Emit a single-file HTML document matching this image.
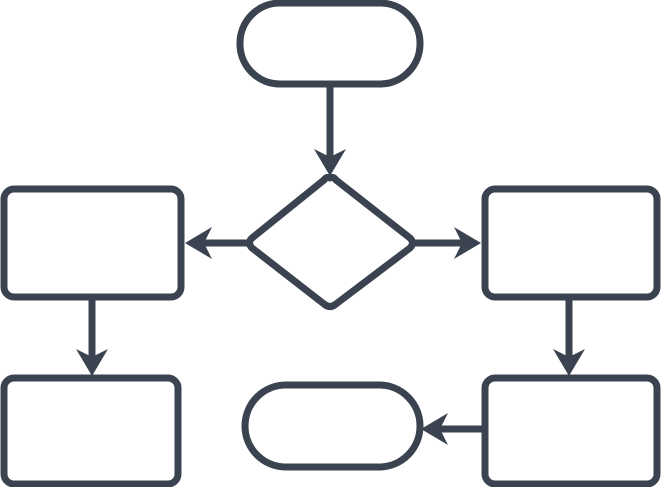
<!DOCTYPE html>
<html><head><style>html,body{margin:0;padding:0;background:#fff;}svg{display:block}</style></head>
<body>
<svg width="661" height="487" viewBox="0 0 661 487" xmlns="http://www.w3.org/2000/svg">
<defs>
<marker id="a" markerUnits="userSpaceOnUse" markerWidth="30" markerHeight="34" refX="17" refY="16" orient="auto">
<path d="M0,0 L27,16 L0,32 L8,16 Z" fill="#3b4350"/>
</marker>
</defs>
<g fill="none" stroke="#3b4350" stroke-width="7" stroke-linejoin="round">
<rect x="240" y="3" width="180" height="81" rx="40"/>
<path d="M330,178 Q333,176 336,180 L410,238 Q415,243 410,248 L336,304 Q330,309 324,304 L252,248 Q247,243 252,238 L324,180 Q327,176 330,178 Z"/>
<rect x="4" y="189" width="177" height="108" rx="10"/>
<rect x="485" y="189" width="172" height="108" rx="10"/>
<rect x="4" y="378" width="174" height="106" rx="10"/>
<rect x="485" y="378" width="172" height="106" rx="10"/>
<rect x="245" y="385" width="175" height="82" rx="41"/>
<line x1="330" y1="84" x2="330" y2="166" marker-end="url(#a)"/>
<line x1="247" y1="243" x2="195" y2="243" marker-end="url(#a)"/>
<line x1="415" y1="243" x2="471" y2="243" marker-end="url(#a)"/>
<line x1="92" y1="297" x2="92" y2="366" marker-end="url(#a)"/>
<line x1="569" y1="297" x2="569" y2="366" marker-end="url(#a)"/>
<line x1="485" y1="429" x2="431" y2="429" marker-end="url(#a)"/>
</g>
</svg>
</body></html>
